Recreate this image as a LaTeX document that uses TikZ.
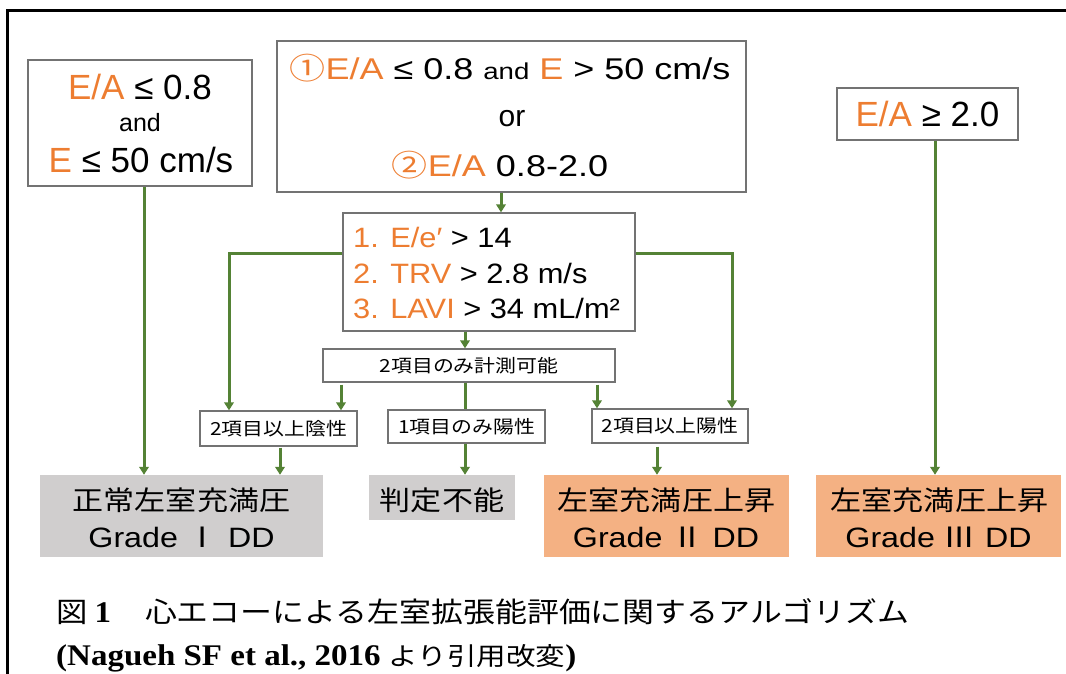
\documentclass[tikz,border=0pt]{standalone}
\usepackage{fontspec}
\usepackage{graphicx}
\setmainfont{Liberation Sans}
\newfontfamily\jp{Noto Sans CJK JP}
\newfontfamily\tms{Liberation Serif}
\usetikzlibrary{arrows.meta}
\definecolor{orng}{RGB}{237,125,49}
\definecolor{grn}{RGB}{84,130,53}
\definecolor{grayfill}{RGB}{208,206,206}
\definecolor{orfill}{RGB}{244,177,131}
\definecolor{bord}{RGB}{115,115,115}
\newcommand{\myfs}[1]{\fontsize{#1}{#1}\selectfont}
\newcommand{\hsc}[2]{\scalebox{#1}[1]{#2}}
\begin{document}
\begin{tikzpicture}[x=1pt,y=-1pt,
  box/.style={draw=bord,line width=1.3pt,inner sep=0pt,minimum width=#1},
  gbox/.style={fill=grayfill,inner sep=0pt},
  obox/.style={fill=orfill,inner sep=0pt},
  txt/.style={inner sep=0pt},
  gline/.style={draw=grn,line width=3pt},
  arr/.style={draw=grn,line width=3pt,-{Triangle[length=8pt,width=9.5pt]}},
  small/.style={font=\jp\myfs{18}}]
\useasboundingbox (0,0) rectangle (1066,674);
% frame
\draw[line width=3pt] (7,674) -- (7,11) -- (1066,11);
% boxes
\node[box=224pt,minimum height=126pt] (lbox) at (140,123) {};
\node[box=469pt,minimum height=151pt] (tbox) at (511.5,116.5) {};
\node[box=181pt,minimum height=52pt] (rbox) at (927.5,114) {};
\node[box=292pt,minimum height=118pt] (mbox) at (489,272) {};
\node[box=292pt,minimum height=33pt,small] (msr) at (469,365.5) {\hsc{1.16}{2項目のみ計測可能}};
\node[box=157pt,minimum height=35pt,small] (neg) at (278.5,428.5) {\hsc{1.16}{2項目以上陰性}};
\node[box=157pt,minimum height=33pt,small] (one) at (466.5,426.5) {\hsc{1.16}{1項目のみ陽性}};
\node[box=156pt,minimum height=34pt,small] (pos) at (670,426) {\hsc{1.16}{2項目以上陽性}};
\node[gbox,minimum width=283pt,minimum height=82pt] (g1) at (181.5,516) {};
\node[gbox,minimum width=146pt,minimum height=45pt] (g2) at (442,497.5) {};
\node[obox,minimum width=245pt,minimum height=82pt] (o1) at (666.5,516) {};
\node[obox,minimum width=245pt,minimum height=82pt] (o2) at (938.5,516) {};
% texts in left box
\node[txt,anchor=base] (l1) at (140,100) {\myfs{35}\textcolor{orng}{E/A} ≤ 0.8};
\node[txt,anchor=base] (l2) at (140,132) {\myfs{25}and};
\node[txt,anchor=base] (l3) at (141,172) {\myfs{35}\textcolor{orng}{E} ≤ 50 cm/s};
% top box
\node[txt,anchor=base] (t1) at (510,80) {\hsc{1.2}{\myfs{30}\textcolor{orng}{{\jp ①}E/A} ≤ 0.8 {\myfs{23}and} \textcolor{orng}{E} > 50 cm/s}};
\node[txt,anchor=base] (t2) at (512,127) {\myfs{30}or};
\node[txt,anchor=base] (t3) at (500,177) {\hsc{1.2}{\myfs{30}\textcolor{orng}{{\jp ②}E/A} 0.8-2.0}};
% right box
\node[txt,anchor=base] (r1) at (927.5,127) {\myfs{35}\textcolor{orng}{E/A} ≥ 2.0};
% middle box
\node[txt,anchor=base west] (m1) at (353,247) {\hsc{1.1}{\myfs{28}\textcolor{orng}{1. E/e′} > 14}};
\node[txt,anchor=base west] (m2) at (353,283) {\hsc{1.1}{\myfs{28}\textcolor{orng}{2. TRV} > 2.8 m/s}};
\node[txt,anchor=base west] (m3) at (353,318) {\hsc{1.1}{\myfs{28}\textcolor{orng}{3. LAVI} > 34 mL/m²}};
% bottom boxes
\node[txt] (g1a) at (181.5,500) {\hsc{1.15}{\jp\myfs{27}正常左室充満圧}};
\node[txt,anchor=base] (g1b) at (181.5,547) {\hsc{1.15}{\myfs{28}Grade {\jp Ⅰ} DD}};
\node[txt] (g2a) at (442,500) {\hsc{1.15}{\jp\myfs{27}判定不能}};
\node[txt] (o1a) at (666.5,500) {\hsc{1.15}{\jp\myfs{27}左室充満圧上昇}};
\node[txt,anchor=base] (o1b) at (666,547) {\hsc{1.15}{\myfs{28}Grade {\jp Ⅱ} DD}};
\node[txt] (o2a) at (939.5,500) {\hsc{1.15}{\jp\myfs{27}左室充満圧上昇}};
\node[txt,anchor=base] (o2b) at (938.5,547) {\hsc{1.15}{\myfs{28}Grade {\jp Ⅲ} DD}};
% caption
\node[txt,anchor=base west] (cap1) at (56,622) {\hsc{1.12}{\jp\myfs{28}図}\hspace{7pt}{\hsc{1.1}{\tms\bfseries\myfs{30}1}}\hspace{34pt}\hsc{1.14}{\jp\myfs{28}心エコーによる左室拡張能評価に関するアルゴリズム}};
\node[txt,anchor=base west] (cap2) at (56,665) {\hsc{1.1}{\tms\bfseries\myfs{30}(Nagueh SF et al., 2016 }\hsc{1.18}{\jp\myfs{25}より引用改変}\hsc{1.1}{\tms\bfseries\myfs{30})}};
% connectors
\draw[arr] (lbox.south -| 144,0) -- (g1.north -| 144,0);
\draw[arr] (tbox.south -| 501,0) -- (mbox.north -| 501,0);
\draw[arr] (rbox.south -| 935,0) -- (o2.north -| 935,0);
\draw[arr] (mbox.west |- 0,253) -- (229,253) -- (neg.north -| 229,0);
\draw[arr] (mbox.east |- 0,253) -- (732,253) -- (pos.north -| 732,0);
\draw[arr] (mbox.south -| 465,0) -- (msr.north -| 465,0);
\draw[arr] ([yshift=-2pt]msr.south -| 341,0) -- (neg.north -| 341,0);
\draw[gline] (msr.south -| 465,0) -- (one.north -| 465,0);
\draw[arr] ([yshift=-2pt]msr.south -| 597,0) -- (pos.north -| 597,0);
\draw[arr] ([yshift=-1pt]neg.south -| 280,0) -- (g1.north -| 280,0);
\draw[arr] (one.south -| 465,0) -- (g2.north -| 465,0);
\draw[arr] ([yshift=-3pt]pos.south -| 657,0) -- (o1.north -| 657,0);
\end{tikzpicture}
\end{document}
